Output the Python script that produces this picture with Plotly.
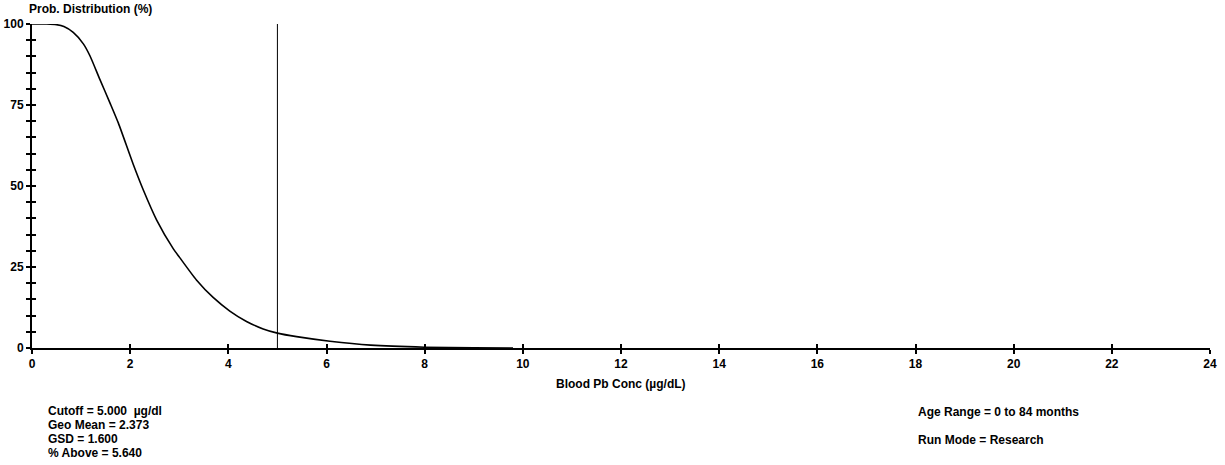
import plotly.graph_objects as go

# Data
conc = [0, 0.3, 0.5, 0.65, 0.84, 1.05, 1.18, 1.38, 1.59, 1.76, 2.06, 2.27, 2.54, 2.88,
        3.01, 3.35, 3.69, 4.03, 4.37, 4.71, 5.0, 5.39, 6.07, 6.9, 8.0, 9.0, 9.8]
prob = [100, 100, 99.8, 99.2, 97.4, 93.8, 90.2, 83.0, 75.6, 69.4, 56.8, 48.7, 39.5, 30.6,
        27.9, 21.0, 15.6, 11.4, 8.2, 5.9, 4.6, 3.5, 2.1, 0.9, 0.25, 0.05, 0.0]
cutoff = 5.0
x_ticks = list(range(0, 25, 2))
y_ticks = [0, 25, 50, 75, 100]

left_info = ["Cutoff = 5.000  µg/dl", "Geo Mean = 2.373", "GSD = 1.600", "% Above = 5.640"]
right_info = ["Age Range = 0 to 84 months", "Run Mode = Research"]

FONT = "Liberation Sans Narrow, Arial Narrow, Liberation Sans, Arial"
W, H = 1225, 465
L, R, T, B = 32, 15, 24, 117
pw, ph = W - L - R, H - T - B

def px(xp):
    return (xp - L) / pw

def py(yp):
    return (H - B - yp) / ph

fig = go.Figure()
fig.add_trace(go.Scatter(x=conc, y=prob, mode="lines",
                         line=dict(color="black", width=1.6, shape="spline", smoothing=0.6),
                         hoverinfo="skip", showlegend=False))
fig.add_trace(go.Scatter(x=[cutoff, cutoff], y=[0, 100], mode="lines",
                         line=dict(color="black", width=1),
                         xaxis="x2", yaxis="y2", hoverinfo="skip", showlegend=False))

axis_common = dict(showgrid=False, zeroline=False, showline=True, linecolor="black",
                   linewidth=2, tickcolor="black", tickwidth=2, ticklen=4, automargin=False)

fig.update_layout(
    width=W, height=H,
    margin=dict(l=L, r=R, t=T, b=B, autoexpand=False),
    paper_bgcolor="white", plot_bgcolor="white",
    font=dict(family=FONT, size=12, color="black"),
    xaxis=dict(range=[0, 24], tickvals=x_ticks, ticktext=[f"<b>{v}</b>" for v in x_ticks],
               ticks="outside", **axis_common),
    yaxis=dict(range=[0, 100], tickvals=y_ticks, ticktext=[f"<b>{v}</b>" for v in y_ticks],
               ticks="outside",
               minor=dict(dtick=5, ticks="outside", ticklen=4, tickwidth=2, tickcolor="black"),
               **axis_common),
    xaxis2=dict(range=[0, 24], tickvals=x_ticks, showticklabels=False, ticks="inside",
                overlaying="x", anchor="y2", **axis_common),
    yaxis2=dict(range=[0, 100], tickvals=y_ticks, showticklabels=False, ticks="inside",
                minor=dict(dtick=5, ticks="inside", ticklen=4, tickwidth=2, tickcolor="black"),
                overlaying="y", anchor="x2", side="left", **axis_common),
)

ann = []
ann.append(dict(text="<b>Prob. Distribution (%)</b>", x=px(27), y=py(9), xref="paper", yref="paper",
                xanchor="left", yanchor="middle", showarrow=False, font=dict(size=12)))
ann.append(dict(text="<b>Blood Pb Conc (µg/dL)</b>", x=0.5, y=py(384), xref="paper", yref="paper",
                xanchor="center", yanchor="middle", showarrow=False, font=dict(size=12)))
for i, t in enumerate(left_info):
    ann.append(dict(text=f"<b>{t}</b>", x=px(46), y=py(411 + 14 * i), xref="paper", yref="paper",
                    xanchor="left", yanchor="middle", showarrow=False, font=dict(size=12)))
for i, t in enumerate(right_info):
    ann.append(dict(text=f"<b>{t}</b>", x=px(916), y=py(411.5 + 28 * i), xref="paper", yref="paper",
                    xanchor="left", yanchor="middle", showarrow=False, font=dict(size=12)))
fig.update_layout(annotations=ann)

fig.write_html("out.html")
